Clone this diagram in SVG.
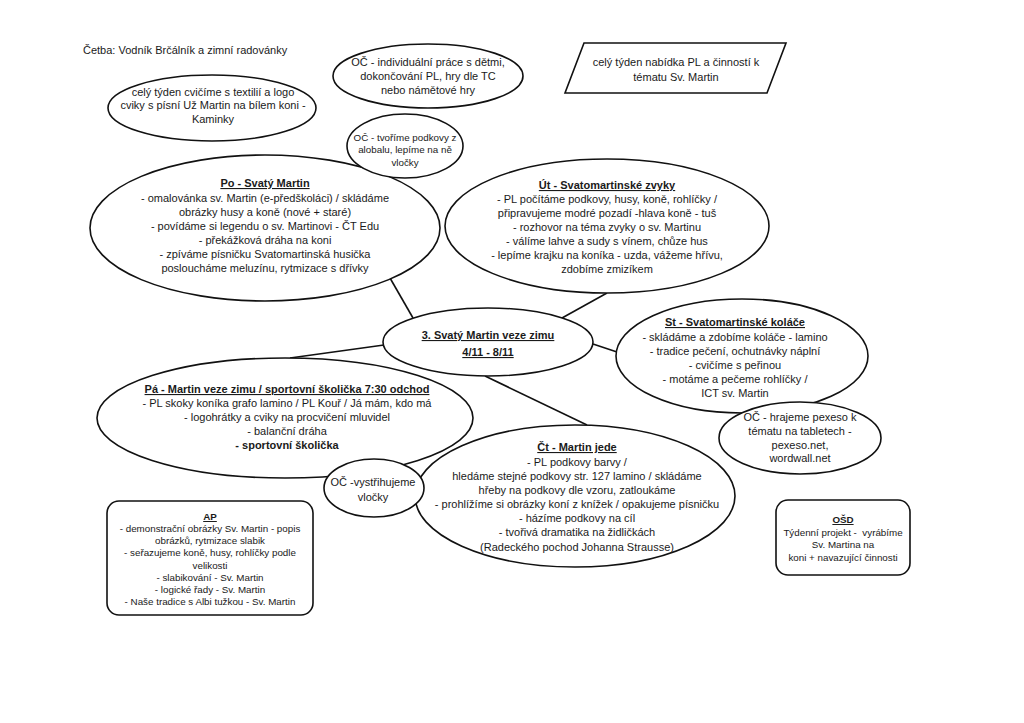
<svg xmlns="http://www.w3.org/2000/svg" width="1024" height="723" viewBox="0 0 1024 723">
<style>
  .shape { fill: #ffffff; stroke: #111111; stroke-width: 1.6; }
  .conn { stroke: #111111; stroke-width: 1.6; fill: none; }
  text { font-family: "Liberation Sans", Arial, sans-serif; fill: #1a1a1a; }
  .t { font-size: 11px; text-anchor: middle; }
  .s { font-size: 9.8px; text-anchor: middle; }
  .h { font-weight: bold; text-decoration: underline; }
  .b { font-weight: bold; }
</style>
<rect x="0" y="0" width="1024" height="723" fill="#ffffff"/>

<text x="83" y="54" font-size="11px">Četba: Vodník Brčálník a zimní radovánky</text>

<g id="connectors">
  <line class="conn" x1="390" y1="278" x2="413" y2="318"/>
  <line class="conn" x1="607" y1="293" x2="562" y2="318"/>
  <line class="conn" x1="593" y1="344" x2="617" y2="352"/>
  <line class="conn" x1="384" y1="345" x2="290" y2="358"/>
  <line class="conn" x1="485" y1="376" x2="587" y2="425"/>
</g>

<g id="oc-individualni">
  <ellipse class="shape" cx="428" cy="76" rx="95" ry="32"/>
  <text class="t" x="428" y="66">OČ - individuální práce s dětmi,</text>
  <text class="t" x="428" y="80">dokončování PL, hry dle TC</text>
  <text class="t" x="428" y="94">nebo námětové hry</text>
</g>

<g id="nabidka">
  <polygon class="shape" points="584,43 786,43 767,93 565,93"/>
  <text class="t" x="676" y="66">celý týden nabídka PL a činností k</text>
  <text class="t" x="676" y="81">tématu Sv. Martin</text>
</g>

<g id="cvicime">
  <ellipse class="shape" cx="212" cy="108" rx="104" ry="33"/>
  <text class="t" x="213" y="96">celý týden cvičíme s textilií a logo</text>
  <text class="t" x="213" y="109">cviky s písní Už Martin na bílem koni -</text>
  <text class="t" x="213" y="123">Kaminky</text>
</g>

<g id="po">
  <ellipse class="shape" cx="265" cy="228" rx="175" ry="73"/>
  <text class="t h" x="265" y="187">Po - Svatý Martin</text>
  <text class="t" x="265" y="202">- omalovánka sv. Martin (e-předškoláci) / skládáme</text>
  <text class="t" x="265" y="216">obrázky husy a koně (nové + staré)</text>
  <text class="t" x="265" y="230">- povídáme si legendu o sv. Martinovi - ČT Edu</text>
  <text class="t" x="265" y="244">- překážková dráha na koni</text>
  <text class="t" x="265" y="258">- zpíváme písničku Svatomartinská husička</text>
  <text class="t" x="265" y="272">posloucháme meluzínu, rytmizace s dřívky</text>
</g>

<g id="oc-podkovy">
  <ellipse class="shape" cx="405" cy="146" rx="58" ry="32"/>
  <text class="s" x="405" y="141">OČ - tvoříme podkovy z</text>
  <text class="s" x="405" y="153">alobalu, lepíme na ně</text>
  <text class="s" x="405" y="166">vločky</text>
</g>

<g id="ut">
  <ellipse class="shape" cx="607" cy="226" rx="162" ry="67"/>
  <text class="t h" x="607" y="189">Út - Svatomartinské zvyky</text>
  <text class="t" x="607" y="203">- PL počítáme podkovy, husy, koně, rohlíčky /</text>
  <text class="t" x="607" y="217">připravujeme modré pozadí -hlava koně - tuš</text>
  <text class="t" x="607" y="231">- rozhovor na téma zvyky o sv. Martinu</text>
  <text class="t" x="607" y="245">- válíme lahve a sudy s vínem, chůze hus</text>
  <text class="t" x="607" y="259">- lepíme krajku na koníka - uzda, vážeme hřívu,</text>
  <text class="t" x="607" y="273">zdobíme zmizíkem</text>
</g>

<g id="center">
  <ellipse class="shape" cx="488" cy="342" rx="105" ry="34"/>
  <text class="t h" x="488" y="339">3. Svatý Martin veze zimu</text>
  <text class="t h" x="488" y="356">4/11 - 8/11</text>
</g>

<g id="st">
  <ellipse class="shape" cx="742" cy="356" rx="126" ry="57"/>
  <text class="t h" x="735" y="326">St - Svatomartinské koláče</text>
  <text class="t" x="735" y="341">- skládáme a zdobíme koláče - lamino</text>
  <text class="t" x="735" y="355">- tradice pečení, ochutnávky náplní</text>
  <text class="t" x="735" y="369">- cvičíme s peřinou</text>
  <text class="t" x="735" y="383">- motáme a pečeme rohlíčky /</text>
  <text class="t" x="735" y="397">ICT sv. Martin</text>
</g>

<g id="pa">
  <ellipse class="shape" cx="285" cy="418" rx="188" ry="60"/>
  <text class="t h" x="287" y="393">Pá - Martin veze zimu / sportovní školička 7:30 odchod</text>
  <text class="t" x="287" y="407">- PL skoky koníka grafo lamino / PL Kouř / Já mám, kdo má</text>
  <text class="t" x="287" y="421">- logohrátky a cviky na procvičení mluvidel</text>
  <text class="t" x="287" y="435">- balanční dráha</text>
  <text class="t b" x="287" y="449">- sportovní školička</text>
</g>

<g id="ct">
  <ellipse class="shape" cx="575" cy="496" rx="160" ry="71"/>
  <text class="t h" x="577" y="451">Čt - Martin jede</text>
  <text class="t" x="577" y="466">- PL podkovy barvy /</text>
  <text class="t" x="577" y="480">hledáme stejné podkovy str. 127 lamino / skládáme</text>
  <text class="t" x="577" y="494">hřeby na podkovy dle vzoru, zatloukáme</text>
  <text class="t" x="577" y="508">- prohlížíme si obrázky koní z knížek / opakujeme písničku</text>
  <text class="t" x="577" y="522">- házíme podkovy na cíl</text>
  <text class="t" x="577" y="536">- tvořivá dramatika na židličkách</text>
  <text class="t" x="577" y="551">(Radeckého pochod Johanna Strausse)</text>
</g>

<g id="oc-pexeso">
  <ellipse class="shape" cx="800" cy="438" rx="81" ry="36"/>
  <text class="t" x="800" y="421">OČ - hrajeme pexeso k</text>
  <text class="t" x="800" y="435">tématu na tabletech -</text>
  <text class="t" x="800" y="449">pexeso.net,</text>
  <text class="t" x="800" y="462">wordwall.net</text>
</g>

<g id="oc-vlocky">
  <ellipse class="shape" cx="374" cy="488" rx="50" ry="29"/>
  <text class="t" x="373" y="486">OČ -vystřihujeme</text>
  <text class="t" x="373" y="501">vločky</text>
</g>

<g id="ap">
  <rect class="shape" x="107" y="501" width="206" height="114" rx="12" ry="12"/>
  <text class="s h" x="210" y="520">AP</text>
  <text class="s" x="210" y="532">- demonstrační obrázky Sv. Martin - popis</text>
  <text class="s" x="210" y="544">obrázků, rytmizace slabik</text>
  <text class="s" x="210" y="556">- seřazujeme koně, husy, rohlíčky podle</text>
  <text class="s" x="210" y="569">velikosti</text>
  <text class="s" x="210" y="581">- slabikování - Sv. Martin</text>
  <text class="s" x="210" y="593">- logické řady - Sv. Martin</text>
  <text class="s" x="210" y="605">- Naše tradice s Albi tužkou - Sv. Martin</text>
</g>

<g id="osd">
  <rect class="shape" x="776" y="500" width="134" height="75" rx="12" ry="12"/>
  <text class="s h" x="843" y="523">OŠD</text>
  <text class="s" x="843" y="536" style="white-space:pre">Týdenní projekt -  vyrábíme</text>
  <text class="s" x="843" y="548">Sv. Martina na</text>
  <text class="s" x="843" y="561">koni + navazující činnosti</text>
</g>
</svg>
